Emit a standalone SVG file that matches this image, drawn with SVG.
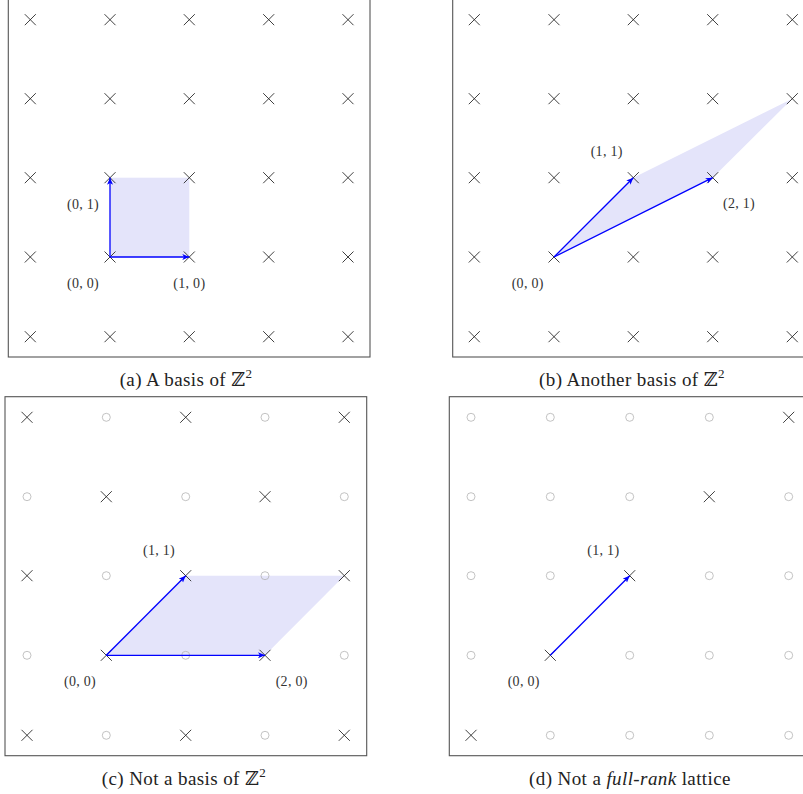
<svg xmlns="http://www.w3.org/2000/svg" width="803" height="794" viewBox="0 0 803 794">
<style>
.frame{fill:none;stroke:#555;stroke-width:1.1}
.x{stroke:#2a2a2a;stroke-width:0.9;fill:none}
.o{stroke:#b4b4b4;stroke-width:0.8;fill:none}
.cell{fill:#e4e4fa;stroke:none}
.vec{stroke:#0000ff;stroke-width:1.3;fill:none;marker-end:url(#ah)}
.lbl{font-family:"Liberation Serif","DejaVu Serif",serif;font-size:14px;letter-spacing:0.3px;fill:#333;text-anchor:middle}
.cap{font-family:"Liberation Serif","DejaVu Serif",serif;font-size:19px;letter-spacing:0.4px;fill:#222;text-anchor:middle}
.z{font-family:"DejaVu Serif",serif}
</style>
<defs>
<marker id="ah" markerUnits="userSpaceOnUse" markerWidth="8" markerHeight="7" refX="7" refY="3" orient="auto">
<path d="M0,0 L7,3 L0,6 L1.8,3 z" fill="#0000ff"/>
</marker>
<path id="X" class="x" d="M-5.5,-5.5 L5.5,5.5 M-5.5,5.5 L5.5,-5.5"/>
<circle id="O" class="o" r="4"/>
</defs>

<g id="panel-a">
<rect class="frame" x="8.3" y="-2" width="361.7" height="359"/>
<rect id="cell-a" class="cell" x="110" y="177.7" width="79.3" height="79.3"/>
<g id="points-a">
<use href="#X" x="30.3" y="19.7"/><use href="#X" x="110" y="19.7"/><use href="#X" x="189.3" y="19.7"/><use href="#X" x="268.7" y="19.7"/><use href="#X" x="348" y="19.7"/>
<use href="#X" x="30.3" y="98.7"/><use href="#X" x="110" y="98.7"/><use href="#X" x="189.3" y="98.7"/><use href="#X" x="268.7" y="98.7"/><use href="#X" x="348" y="98.7"/>
<use href="#X" x="30.3" y="177.7"/><use href="#X" x="110" y="177.7"/><use href="#X" x="189.3" y="177.7"/><use href="#X" x="268.7" y="177.7"/><use href="#X" x="348" y="177.7"/>
<use href="#X" x="30.3" y="257"/><use href="#X" x="110" y="257"/><use href="#X" x="189.3" y="257"/><use href="#X" x="268.7" y="257"/><use href="#X" x="348" y="257"/>
<use href="#X" x="30.3" y="336.7"/><use href="#X" x="110" y="336.7"/><use href="#X" x="189.3" y="336.7"/><use href="#X" x="268.7" y="336.7"/><use href="#X" x="348" y="336.7"/>
</g>
<text class="lbl" x="83" y="208.5">(0, 1)</text>
<text class="lbl" x="83" y="287.5">(0, 0)</text>
<text class="lbl" x="189.3" y="287.5">(1, 0)</text>
<text class="cap" x="186" y="386">(a) A basis of <tspan class="z">ℤ</tspan><tspan dy="-8" font-size="13">2</tspan></text>
</g>

<g id="panel-b">
<rect class="frame" x="452.7" y="-2" width="362" height="359"/>
<polygon id="cell-b" class="cell" points="554,257 633.3,177.7 792.3,98.7 712.7,177.7"/>
<g id="points-b">
<use href="#X" x="474.3" y="19.7"/><use href="#X" x="554" y="19.7"/><use href="#X" x="633.3" y="19.7"/><use href="#X" x="712.7" y="19.7"/><use href="#X" x="792.3" y="19.7"/>
<use href="#X" x="474.3" y="98.7"/><use href="#X" x="554" y="98.7"/><use href="#X" x="633.3" y="98.7"/><use href="#X" x="712.7" y="98.7"/><use href="#X" x="792.3" y="98.7"/>
<use href="#X" x="474.3" y="177.7"/><use href="#X" x="554" y="177.7"/><use href="#X" x="633.3" y="177.7"/><use href="#X" x="712.7" y="177.7"/><use href="#X" x="792.3" y="177.7"/>
<use href="#X" x="474.3" y="257"/><use href="#X" x="554" y="257"/><use href="#X" x="633.3" y="257"/><use href="#X" x="712.7" y="257"/><use href="#X" x="792.3" y="257"/>
<use href="#X" x="474.3" y="336.7"/><use href="#X" x="554" y="336.7"/><use href="#X" x="633.3" y="336.7"/><use href="#X" x="712.7" y="336.7"/><use href="#X" x="792.3" y="336.7"/>
</g>
<text class="lbl" x="606.7" y="155.5">(1, 1)</text>
<text class="lbl" x="739" y="208">(2, 1)</text>
<text class="lbl" x="527.7" y="287.5">(0, 0)</text>
<text class="cap" x="632" y="386">(b) Another basis of <tspan class="z">ℤ</tspan><tspan dy="-8" font-size="13">2</tspan></text>
</g>

<g id="panel-c">
<rect class="frame" x="5" y="396.7" width="361.7" height="359"/>
<polygon id="cell-c" class="cell" points="106.3,655.3 185.7,575.7 344.3,575.7 265,655.3"/>
<g id="points-c">
<use href="#X" x="27" y="417.3"/><use href="#O" x="106.3" y="417.3"/><use href="#X" x="185.7" y="417.3"/><use href="#O" x="265" y="417.3"/><use href="#X" x="344.3" y="417.3"/>
<use href="#O" x="27" y="496.7"/><use href="#X" x="106.3" y="496.7"/><use href="#O" x="185.7" y="496.7"/><use href="#X" x="265" y="496.7"/><use href="#O" x="344.3" y="496.7"/>
<use href="#X" x="27" y="575.7"/><use href="#O" x="106.3" y="575.7"/><use href="#X" x="185.7" y="575.7"/><use href="#O" x="265" y="575.7"/><use href="#X" x="344.3" y="575.7"/>
<use href="#O" x="27" y="655.3"/><use href="#X" x="106.3" y="655.3"/><use href="#O" x="185.7" y="655.3"/><use href="#X" x="265" y="655.3"/><use href="#O" x="344.3" y="655.3"/>
<use href="#X" x="27" y="735.3"/><use href="#O" x="106.3" y="735.3"/><use href="#X" x="185.7" y="735.3"/><use href="#O" x="265" y="735.3"/><use href="#X" x="344.3" y="735.3"/>
</g>
<text class="lbl" x="159" y="554.5">(1, 1)</text>
<text class="lbl" x="80" y="686">(0, 0)</text>
<text class="lbl" x="291.7" y="686">(2, 0)</text>
<text class="cap" x="184" y="785">(c) Not a basis of <tspan class="z">ℤ</tspan><tspan dy="-8" font-size="13">2</tspan></text>
</g>

<g id="panel-d">
<rect class="frame" x="449.3" y="396.7" width="362" height="359"/>
<g id="points-d">
<use href="#O" x="471" y="417.3"/><use href="#O" x="550.3" y="417.3"/><use href="#O" x="629.7" y="417.3"/><use href="#O" x="709.3" y="417.3"/><use href="#X" x="788.7" y="417.3"/>
<use href="#O" x="471" y="496.7"/><use href="#O" x="550.3" y="496.7"/><use href="#O" x="629.7" y="496.7"/><use href="#X" x="709.3" y="496.7"/><use href="#O" x="788.7" y="496.7"/>
<use href="#O" x="471" y="575.7"/><use href="#O" x="550.3" y="575.7"/><use href="#X" x="629.7" y="575.7"/><use href="#O" x="709.3" y="575.7"/><use href="#O" x="788.7" y="575.7"/>
<use href="#O" x="471" y="655.3"/><use href="#X" x="550.3" y="655.3"/><use href="#O" x="629.7" y="655.3"/><use href="#O" x="709.3" y="655.3"/><use href="#O" x="788.7" y="655.3"/>
<use href="#X" x="471" y="735.3"/><use href="#O" x="550.3" y="735.3"/><use href="#O" x="629.7" y="735.3"/><use href="#O" x="709.3" y="735.3"/><use href="#O" x="788.7" y="735.3"/>
</g>
<text class="lbl" x="603.3" y="554.5">(1, 1)</text>
<text class="lbl" x="523.7" y="686">(0, 0)</text>
<text class="cap" x="630" y="785">(d) Not a <tspan font-style="italic">full-rank</tspan> lattice</text>
</g>

<g id="connectors">
<path class="vec" d="M110,257 L189.3,257"/>
<path class="vec" d="M110,257 L110,177.7"/>
<path class="vec" d="M554,257 L633.3,177.7"/>
<path class="vec" d="M554,257 L712.7,177.7"/>
<path class="vec" d="M106.3,655.3 L185.7,575.7"/>
<path class="vec" d="M106.3,655.3 L265,655.3"/>
<path class="vec" d="M550.3,655.3 L629.7,575.7"/>
</g>
</svg>
